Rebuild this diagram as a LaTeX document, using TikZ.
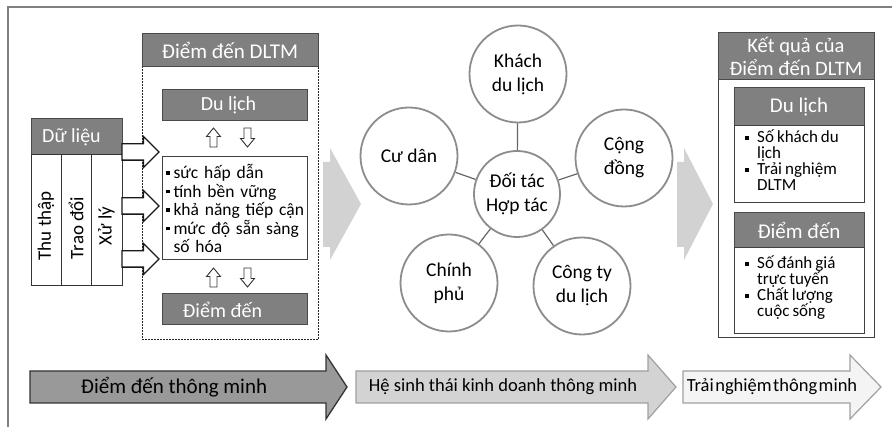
\documentclass[tikz,border=0pt]{standalone}
\usepackage{fontspec}
\setmainfont{Carlito}
\usetikzlibrary{shapes.arrows}
\definecolor{hdrfill}{HTML}{808080}
\definecolor{hdrline}{HTML}{4A4A4A}
\definecolor{chev}{HTML}{D2D2D2}
\definecolor{circline}{HTML}{8C8C8C}
\definecolor{framec}{HTML}{808080}
\definecolor{darkarr}{HTML}{999999}
\definecolor{midarr}{HTML}{D3D3D3}
\definecolor{lightarr}{HTML}{F4F4F4}
\definecolor{arrline}{HTML}{A0A0A0}
\newcommand\sqL{\makebox[7.5pt][l]{\rule[0.22em]{3.5pt}{3.5pt}}}
\newcommand\sqR{\makebox[12pt][l]{\rule[0.15em]{4pt}{4pt}}}
\newcommand\fs[2]{\fontsize{#1}{#2}\selectfont}
\newcommand\tsp{\spaceskip=0.18em plus 0.05em\relax}
\newcommand\hollowup[2]{\draw[smallarr] (#1,#2-9.5) -- (#1+7,#2-1) -- (#1+3.5,#2-1) -- (#1+3.5,#2+9.5) -- (#1-3.5,#2+9.5) -- (#1-3.5,#2-1) -- (#1-7,#2-1) -- cycle;}
\newcommand\hollowdown[2]{\draw[smallarr] (#1,#2+9.5) -- (#1+7,#2+1) -- (#1+3.5,#2+1) -- (#1+3.5,#2-9.5) -- (#1-3.5,#2-9.5) -- (#1-3.5,#2+1) -- (#1-7,#2+1) -- cycle;}
\begin{document}
\begin{tikzpicture}[x=1pt,y=-1pt,
  hdrbox/.style={draw=hdrline, line width=1, fill=hdrfill, text=white, inner sep=0, outer sep=0, anchor=north west, font=\fs{20}{22}},
  plainbox/.style={draw=black!75, line width=1, fill=white, inner sep=0, outer sep=0, anchor=north west},
  colbox/.style={draw=black!80, line width=1, fill=white, inner sep=0, outer sep=0, anchor=north west, minimum width=30.5, minimum height=131},
  coltext/.style={rotate=90, font=\fs{19}{21}, inner sep=0},
  hollowarrow/.style={single arrow, draw=black!90, line width=1.4, fill=white, minimum height=37, inner xsep=0, inner ysep=7.5, single arrow head extend=7.5, outer sep=0, anchor=tail},
  smallarr/.style={draw=black!80, line width=0.9, fill=white, line join=miter},
  circnode/.style={circle, draw=circline, line width=1.8, fill=white, minimum size=97, inner sep=0, align=center, font=\fs{19.5}{24}},
  conn/.style={draw=black!60, line width=1.2},
  bul/.style={inner sep=0, anchor=north west, align=left, font=\fs{17}{16}\tsp},
  bigtext/.style={inner sep=0}
]
\useasboundingbox (0,0) rectangle (892,427);
% frame
\draw[framec, line width=1.5] (8,427) -- (8,7) -- (892,7);

% ---------- Left: data ----------
\node[hdrbox, minimum width=91, minimum height=36] (dl) at (31,119) {\hspace*{-10pt}Dữ liệu};
\node[colbox] (c1) at (31,155) {};
\node[colbox] (c2) at (61,155) {};
\node[colbox] (c3) at (91.5,155) {};
\node[coltext] (t1) at (46,226) {Thu thập};
\node[coltext] (t2) at (76,228) {Trao đổi};
\node[coltext] (t3) at (106.5,226) {Xử lý};

% dashed group
\node[draw=black!85, dash pattern=on 1.6pt off 1.4pt, line width=1, minimum width=176, minimum height=273, inner sep=0, outer sep=0, anchor=north west] (dz) at (142,67) {};
\node[hdrbox, minimum width=176, minimum height=33, font=\fs{21}{23}] (dh) at (142,34) {Điểm đến DLTM};
\node[hdrbox, minimum width=145, minimum height=31] (b1) at (162,90) {\hspace*{-12pt}Du lịch};
\node[plainbox, minimum width=145, minimum height=103, text width=141, inner xsep=2, align=left, font=\fs{17.5}{18.5}\tsp] (b2) at (162,157)
  {\hspace*{2pt}\sqL sức hấp dẫn\\\hspace*{2pt}\sqL tính bền vững\\\hspace*{2pt}\sqL khả năng tiếp cận\\\hspace*{2pt}\sqL mức độ sẵn sàng\\\hspace*{9.5pt}số hóa};
\node[hdrbox, minimum width=145, minimum height=31] (b3) at (162,294) {\hspace*{-24pt}Điểm đến};

% hollow arrows from data
\node[hollowarrow] (h1) at (122,152) {};
\node[hollowarrow] (h2) at (122,206) {};
\node[hollowarrow] (h3) at (122,259) {};

% small up/down arrows
\hollowup{213.5}{137.5}
\hollowdown{247.5}{137.5}
\hollowup{213.5}{277.5}
\hollowdown{247.5}{277.5}

% chevrons
\fill[chev] (323,162) -- (330,162) -- (330,148) -- (361,204) -- (330,260) -- (330,247) -- (323,247) -- cycle;
\fill[chev] (677,162) -- (684,162) -- (684,148) -- (713,204) -- (684,260) -- (684,247) -- (677,247) -- cycle;

% ---------- Middle: partners ----------
\node[circnode, minimum size=86] (hub) at (517,194) {Đối tác\\Hợp tác};
\node[circnode] (kh) at (518,74) {Khách\\du lịch};
\node[circnode] (cd) at (409,156) {Cư dân};
\node[circnode] (cg) at (624,158) {Cộng\\đồng};
\node[circnode] (cp) at (449,283) {Chính\\phủ};
\node[circnode] (ct) at (582,286) {Công ty\\du lịch};
\draw[conn] (hub) -- (kh);
\draw[conn] (hub) -- (cd);
\draw[conn] (hub) -- (cg);
\draw[conn] (hub) -- (cp);
\draw[conn] (hub) -- (ct);

% ---------- Right: results ----------
\node[plainbox, minimum width=156, minimum height=305] (rz) at (718,33) {};
\node[hdrbox, minimum width=156, minimum height=47, align=center, font=\fs{20.5}{23}] (rh) at (718,33) {Kết quả của\\Điểm đến DLTM};
\node[hdrbox, minimum width=130, minimum height=38, font=\fs{21}{23}] (r1) at (734,88) {Du lịch};
\node[plainbox, minimum width=130, minimum height=77] (r2) at (734,126) {};
\node[bul] (r2t) at (745,130) {\sqR Số khách du\\\hspace*{12pt}lịch\\\sqR Trải nghiệm\\\hspace*{12pt}DLTM};
\node[hdrbox, minimum width=130, minimum height=35, font=\fs{21}{23}] (r3) at (734,213) {Điểm đến};
\node[plainbox, minimum width=130, minimum height=86] (r4) at (734,248) {};
\node[bul] (r4t) at (745,256) {\sqR Số đánh giá\\\hspace*{12pt}trực tuyến\\\sqR Chất lượng\\\hspace*{12pt}cuộc sống};

% ---------- Bottom arrows ----------
\draw[line width=1.3, draw=black!80, fill=darkarr] (30,371) -- (326,371) -- (326,355) -- (347,387) -- (326,419) -- (326,403) -- (30,403) -- cycle;
\draw[line width=1.2, draw=arrline, fill=midarr] (356,371) -- (648,371) -- (648,355) -- (676,387) -- (648,419) -- (648,403) -- (356,403) -- cycle;
\draw[line width=1.2, draw=arrline, fill=lightarr] (683,371) -- (850,371) -- (850,355) -- (881,387) -- (850,419) -- (850,403) -- (683,403) -- cycle;
\node[bigtext, font=\fs{21}{23}] (a1) at (174,387) {Điểm đến thông minh};
\node[bigtext, font=\fs{18.5}{20}] (a2) at (503,387) {Hệ sinh thái kinh doanh thông minh};
\node[bigtext, font=\fs{18.5}{20}] (a3) at (772,387) {Trải\hspace{1.5pt}nghiệm\hspace{1.5pt}thông\hspace{1.5pt}minh};
\end{tikzpicture}
\end{document}
